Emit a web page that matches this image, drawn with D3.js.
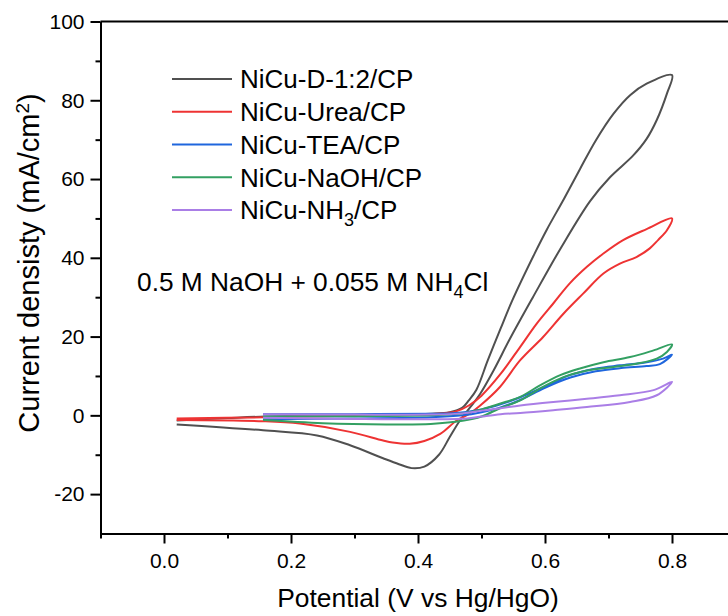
<!DOCTYPE html>
<html>
<head>
<meta charset="utf-8">
<script src="https://cdn.jsdelivr.net/npm/d3@7"></script>
<style>
  body { margin: 0; background: #fff; }
  svg { font-family: "Liberation Sans", Arial, sans-serif; }
  .axis path, .axis line { stroke: #000; stroke-width: 2; }
  .axis text { font-size: 21px; fill: #000; }
</style>
</head>
<body>
<div id="chart"></div>
<script>
// CV loops: forward scan then reverse scan, [potential V, current mA/cm2]
const seriesNames = ["NiCu-D-1:2/CP", "NiCu-Urea/CP", "NiCu-TEA/CP", "NiCu-NaOH/CP", "NiCu-NH3/CP"];
const seriesColors = ["#505050", "#ee3333", "#1f66dd", "#33a062", "#aa7ee6"];

const cvD12 = [
  [0.02, -1.3], [0.1, -0.7], [0.16, -0.3], [0.25, 0], [0.35, 0.2], [0.42, 0.4], [0.45, 0.8],
  [0.47, 2], [0.48, 3.8], [0.492, 6.5], [0.51, 14], [0.53, 22], [0.548, 29], [0.584, 41.2],
  [0.603, 47.2], [0.63, 55], [0.655, 62.5], [0.68, 69.8], [0.708, 76.6], [0.734, 81.3], [0.76, 84.2], [0.8, 86.4],
  [0.792, 81.7], [0.776, 75], [0.76, 70.2], [0.739, 66], [0.702, 60.4], [0.671, 54.4], [0.625, 42.5],
  [0.581, 30], [0.545, 19.5], [0.519, 11.4], [0.498, 5.5], [0.482, 2], [0.466, -1.3],
  [0.45, -5.5], [0.433, -10], [0.41, -13], [0.39, -13.4], [0.37, -12.4], [0.345, -10.9],
  [0.293, -7.6], [0.241, -5.1], [0.156, -3.8], [0.02, -2.3]
];
const cvUrea = [
  [0.02, -0.8], [0.156, -0.5], [0.25, -0.2], [0.35, 0], [0.42, 0.3], [0.46, 1], [0.48, 2.5],
  [0.5, 5], [0.53, 10.5], [0.561, 17.4], [0.587, 23.3], [0.613, 28.4], [0.639, 33.5], [0.666, 37.7],
  [0.692, 41.1], [0.723, 44.5], [0.76, 47.3], [0.8, 50],
  [0.792, 47], [0.778, 44.5], [0.765, 42.4], [0.744, 40.2], [0.718, 38.5], [0.692, 36], [0.66, 30.9],
  [0.629, 25.8], [0.597, 19.9], [0.561, 14], [0.529, 7.2], [0.498, 2.5], [0.48, 0.3], [0.461, -1.3],
  [0.435, -4.7], [0.41, -6.5], [0.387, -7.2], [0.36, -6.9], [0.345, -6.4], [0.293, -4.2],
  [0.214, -2.1], [0.156, -1.5], [0.02, -1.2]
];
const cvTEA = [
  [0.156, 0.3], [0.3, 0.3], [0.42, 0.4], [0.46, 0.6], [0.5, 1.5], [0.53, 2.8], [0.561, 4.6],
  [0.603, 7.6], [0.639, 10.2], [0.681, 11.9], [0.718, 12.7], [0.76, 13.5], [0.786, 14.4], [0.8, 15.4],
  [0.781, 13.0], [0.76, 12.5], [0.72, 12.0], [0.68, 11.2], [0.64, 9.6], [0.6, 7.0], [0.561, 3.9],
  [0.53, 2.0], [0.5, 0.8], [0.47, 0], [0.42, -0.5], [0.3, -0.8], [0.156, -1.0]
];
const cvNaOH = [
  [0.156, -0.3], [0.3, -0.2], [0.42, 0], [0.47, 0.5], [0.5, 1.5], [0.53, 3], [0.561, 4.7],
  [0.592, 7.6], [0.624, 10.2], [0.655, 11.9], [0.692, 13.5], [0.734, 14.8], [0.771, 16.5], [0.8, 18.0],
  [0.792, 16.1], [0.776, 14.4], [0.744, 13.1], [0.708, 12.3], [0.666, 11.4], [0.629, 9.7], [0.592, 6.8],
  [0.561, 3.8], [0.529, 1.8], [0.5, -0.3], [0.47, -1.4], [0.42, -2.2], [0.35, -2.3], [0.25, -2.0], [0.156, -1.2]
];
const cvNH3 = [
  [0.156, 0.3], [0.3, 0.2], [0.42, 0.2], [0.47, 0.5], [0.5, 1.2], [0.53, 1.8], [0.561, 2.5],
  [0.613, 3.4], [0.666, 4.2], [0.718, 5.1], [0.771, 6.4], [0.8, 8.5],
  [0.776, 5.1], [0.734, 3.4], [0.666, 2.1], [0.613, 1.3], [0.561, 0.6], [0.53, 0.3], [0.5, -0.3],
  [0.477, -0.8], [0.42, -1.0], [0.3, -0.9], [0.156, -0.6]
];
const allSeries = [cvD12, cvUrea, cvTEA, cvNaOH, cvNH3];

const xMajor = [0, 0.2, 0.4, 0.6, 0.8];
const xMinor = [-0.1, 0.1, 0.3, 0.5, 0.7];
const yMajor = [-20, 0, 20, 40, 60, 80, 100];
const yMinor = [-10, 10, 30, 50, 70, 90];

const width = 728, height = 616;
const svg = d3.select("#chart").append("svg")
    .attr("width", width)
    .attr("height", height);

const x = d3.scaleLinear().domain([-0.1, 0.9]).range([100.5, 735.5]);
const y = d3.scaleLinear().domain([-30, 100]).range([533.5, 21.5]);

// frame top + right
svg.append("line")
    .attr("x1", x(-0.1)).attr("x2", x(0.9))
    .attr("y1", y(100)).attr("y2", y(100))
    .attr("stroke", "#000").attr("stroke-width", 2);
svg.append("line")
    .attr("x1", x(0.9)).attr("x2", x(0.9))
    .attr("y1", y(100)).attr("y2", y(-30))
    .attr("stroke", "#000").attr("stroke-width", 2);

// minor ticks
svg.append("g").attr("class", "axis")
    .attr("transform", `translate(0,${y(-30)})`)
    .call(d3.axisBottom(x).tickValues(xMinor).tickSize(5).tickSizeOuter(0).tickFormat(""))
    .select(".domain").remove();
svg.append("g").attr("class", "axis")
    .attr("transform", `translate(${x(-0.1)},0)`)
    .call(d3.axisLeft(y).tickValues(yMinor).tickSize(5).tickSizeOuter(0).tickFormat(""))
    .select(".domain").remove();

// major axes
svg.append("g").attr("class", "axis")
    .attr("transform", `translate(0,${y(-30)})`)
    .call(d3.axisBottom(x).tickValues(xMajor).tickSize(10).tickPadding(10).tickSizeOuter(0)
        .tickFormat(d3.format(".1f")));
svg.append("g").attr("class", "axis")
    .attr("transform", `translate(${x(-0.1)},0)`)
    .call(d3.axisLeft(y).tickValues(yMajor).tickSize(10).tickPadding(6).tickSizeOuter(0)
        .tickFormat(d => String(d)));

// curves
const line = d3.line()
    .x(d => x(d[0]))
    .y(d => y(d[1]))
    .curve(d3.curveCatmullRom.alpha(0.5));

svg.append("g").selectAll("path")
    .data(allSeries)
    .join("path")
    .attr("d", line)
    .attr("fill", "none")
    .attr("stroke", (d, i) => seriesColors[i])
    .attr("stroke-width", 2)
    .attr("stroke-linejoin", "round");

// legend
const legend = svg.append("g").attr("font-size", 26);
const legendY = d3.scaleLinear().domain([0, 4]).range([79, 210]);
seriesNames.forEach((name, i) => {
    const ly = legendY(i);
    legend.append("line")
        .attr("x1", 172).attr("x2", 232)
        .attr("y1", ly).attr("y2", ly)
        .attr("stroke", seriesColors[i]).attr("stroke-width", 2);
    const t = legend.append("text").attr("x", 240).attr("y", ly).attr("dy", "0.36em");
    if (name.includes("NH3")) {
        t.append("tspan").text("NiCu-NH");
        t.append("tspan").attr("dy", 7).attr("font-size", 18).text("3");
        t.append("tspan").attr("dy", -7).text("/CP");
    } else {
        t.text(name);
    }
});

// electrolyte note
const note = svg.append("text").attr("x", 137).attr("y", 291).attr("font-size", 26.3);
note.append("tspan").text("0.5 M NaOH + 0.055 M NH");
note.append("tspan").attr("dy", 7).attr("font-size", 18).text("4");
note.append("tspan").attr("dy", -7).text("Cl");

// axis titles
svg.append("text")
    .attr("x", 418).attr("y", 607)
    .attr("text-anchor", "middle")
    .attr("font-size", 26.4)
    .text("Potential (V vs Hg/HgO)");

const yt = svg.append("text")
    .attr("transform", "translate(39,263) rotate(-90)")
    .attr("text-anchor", "middle")
    .attr("font-size", 29);
yt.append("tspan").text("Current densisty (mA/cm");
yt.append("tspan").attr("dy", -10).attr("font-size", 19).text("2");
yt.append("tspan").attr("dy", 10).text(")");
</script>
</body>
</html>
